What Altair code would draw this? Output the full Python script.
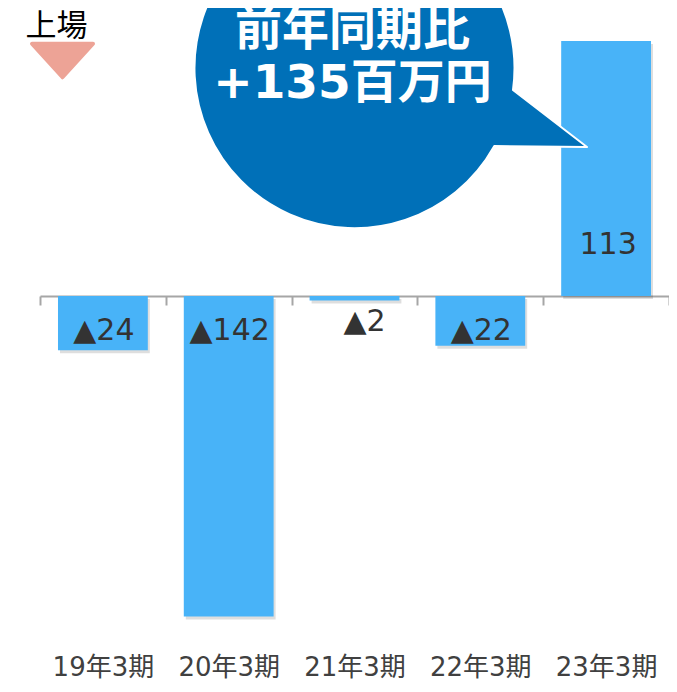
import altair as alt
import pandas as pd

categories = ["19年3期", "20年3期", "21年3期", "22年3期", "23年3期"]
values = [-24, -142, -2, -22, 113]
bubble_lines = ["前年同期比", "+135百万円"]
marker_text = "上場"

df = pd.DataFrame({"cat": categories, "value": values})

BAR = "#48B3F8"
BUBBLE = "#0070B8"
SALMON = "#EDA396"
FONT = "DejaVu Sans, Noto Sans CJK JP"

x_enc = alt.X(
    "cat:N", sort=categories, title=None,
    scale=alt.Scale(paddingInner=0, paddingOuter=0),
    axis=alt.Axis(orient="bottom", offset=-344, tickBand="extent",
                  domainColor="#a6a6a6", domainWidth=2,
                  tickColor="#a6a6a6", tickWidth=2, tickSize=9,
                  labelAngle=0, labelFont=FONT, labelFontSize=26,
                  labelColor="#404040", labelPadding=362, labelBaseline="middle"),
)
y_scale = alt.Scale(domain=[-152.4, 127.6], nice=False, zero=False)
y_enc = alt.Y("value:Q", title=None, axis=None, scale=y_scale)

base = alt.Chart(df).transform_calculate(
    label="datum.value < 0 ? '▲' + (-datum.value) : '' + datum.value"
)

bw = alt.RelativeBandSize(0.714)
shadow = base.mark_bar(color="black", opacity=0.13, xOffset=2, yOffset=3, width=bw).encode(x=x_enc, y=y_enc)
bars = base.mark_bar(color=BAR, width=bw).encode(x=x_enc, y=y_enc)

x_plain = alt.X("cat:N", sort=categories, title=None)
txt_style = dict(font=FONT, fontSize=30, color="#333333", baseline="middle")
lab_neg = base.transform_filter("datum.value <= -10").mark_text(dy=35, dx=1, **txt_style).encode(
    x=x_plain, y=alt.datum(0), text="label:N")
lab_small = base.transform_filter("datum.value > -10 && datum.value < 0").mark_text(dy=26, dx=10, **txt_style).encode(
    x=x_plain, y=alt.datum(0), text="label:N")
lab_pos = base.transform_filter("datum.value > 0").mark_text(dy=-51, dx=2, **txt_style).encode(
    x=x_plain, y=alt.datum(0), text="label:N")

bubble_path = "M 0.9905 0.1375 L 1.453 0.494 L 0.873 0.488 A 1 1 0 1 1 0.9905 0.1375 Z"
bubble = alt.Chart(df).transform_filter(alt.datum.cat == categories[2]).mark_point(
    shape=bubble_path, size=102400, filled=True, fill=BUBBLE, opacity=1,
    stroke="white", strokeWidth=2, strokeOpacity=1, strokeJoin="round"
).encode(x=x_plain, y=alt.datum(101))

bt_style = dict(font=FONT, fontWeight="bold", fontSize=47, color="white", baseline="middle")
btext1 = alt.Chart(df).transform_filter(alt.datum.cat == categories[2]).mark_text(dy=-37, dx=-2, **bt_style).encode(
    x=x_plain, y=alt.datum(101), text=alt.value(bubble_lines[0]))
btext2 = alt.Chart(df).transform_filter(alt.datum.cat == categories[2]).mark_text(dy=16, dx=-2, **bt_style).encode(
    x=x_plain, y=alt.datum(101), text=alt.value(bubble_lines[1]))

marker_lbl = alt.Chart(df).transform_filter(alt.datum.cat == categories[0]).mark_text(
    font="Noto Sans CJK JP", fontSize=31, color="black", baseline="middle"
).encode(x=alt.value(16.5), y=alt.value(19), text=alt.value(marker_text))

tri_path = "M -1 -0.55 L 1 -0.55 L 0 0.55 Z"
marker_tri = alt.Chart(df).transform_filter(alt.datum.cat == categories[0]).mark_point(
    shape=tri_path, size=3721, filled=True, fill=SALMON, opacity=1,
    stroke=SALMON, strokeWidth=4, strokeJoin="round", strokeOpacity=1
).encode(x=alt.value(22.5), y=alt.value(52.5))

chart = alt.layer(
    shadow, bars, lab_neg, lab_small, lab_pos, bubble, btext1, btext2, marker_lbl, marker_tri
).properties(
    width=629, height=632,
    autosize=alt.AutoSizeParams(type="none"),
    padding={"left": 32, "top": 0, "right": 0, "bottom": 44},
).configure_view(strokeWidth=0)

chart.save("out.html", embed_options={"renderer": "svg", "actions": False})
